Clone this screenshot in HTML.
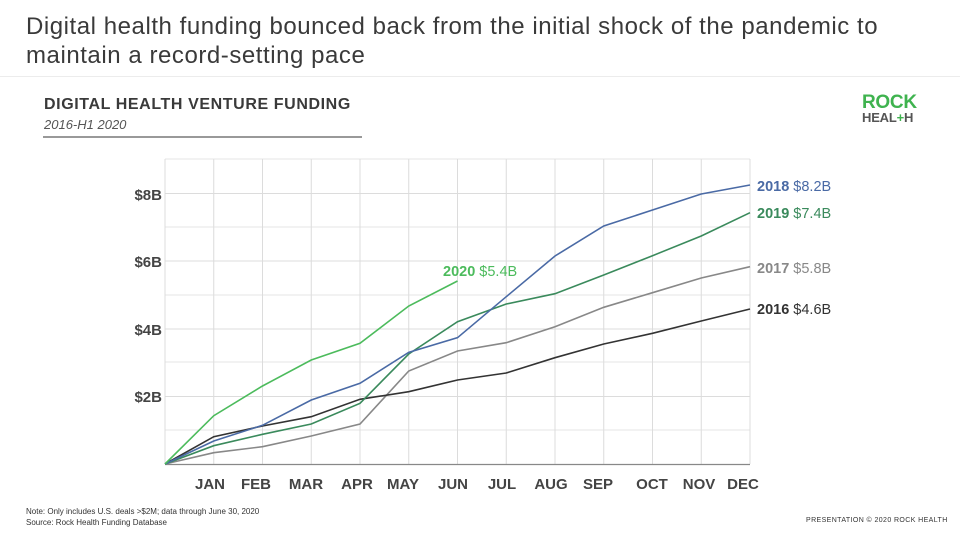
<!DOCTYPE html>
<html><head><meta charset="utf-8"><style>
body{margin:0;width:960px;height:540px;background:#fff;font-family:"Liberation Sans",sans-serif;position:relative;overflow:hidden}
.t{position:absolute;left:26px;top:12px;font-size:24px;letter-spacing:0.55px;line-height:29px;color:#3a3a3a}
.sep{position:absolute;left:0;top:76px;width:960px;height:1px;background:#ececec}
.st{position:absolute;left:44px;top:96px;font-size:16px;font-weight:bold;letter-spacing:0.6px;color:#3a3a3a}
.ss{position:absolute;left:44px;top:117px;font-size:13px;font-style:italic;color:#555}
.ul{position:absolute;left:43px;top:136px;width:319px;height:2px;background:#999}
.foot{position:absolute;left:26px;font-size:8px;color:#333}
</style></head><body>
<div class="t">Digital health funding bounced back from the initial shock of the pandemic to<br>maintain a record-setting pace</div>
<div class="sep"></div>
<div class="st">DIGITAL HEALTH VENTURE FUNDING</div>
<div class="ss">2016-H1 2020</div>
<div class="ul"></div>
<div style="position:absolute;left:862px;top:95px;font-weight:bold;font-size:19px;line-height:16px;color:#3fb34f;letter-spacing:-0.3px">ROCK</div>
<div style="position:absolute;left:862px;top:111px;font-weight:bold;font-size:13px;line-height:13px;color:#555;letter-spacing:-0.2px">HEAL<span style="color:#3fb34f">+</span>H</div>
<svg width="960" height="540" style="position:absolute;left:0;top:0">
<g stroke="#e6e6e6" stroke-width="1">
<line x1="165" y1="430" x2="750" y2="430"/><line x1="165" y1="362" x2="750" y2="362"/><line x1="165" y1="295" x2="750" y2="295"/><line x1="165" y1="227" x2="750" y2="227"/><line x1="165" y1="159" x2="750" y2="159"/>
</g>
<g stroke="#dcdcdc" stroke-width="1">
<line x1="165" y1="396.5" x2="750" y2="396.5"/><line x1="165" y1="329" x2="750" y2="329"/><line x1="165" y1="261" x2="750" y2="261"/><line x1="165" y1="193.5" x2="750" y2="193.5"/>
<line x1="165" y1="159" x2="165" y2="464"/><line x1="213.75" y1="159" x2="213.75" y2="464"/><line x1="262.5" y1="159" x2="262.5" y2="464"/><line x1="311.25" y1="159" x2="311.25" y2="464"/><line x1="360" y1="159" x2="360" y2="464"/><line x1="408.75" y1="159" x2="408.75" y2="464"/><line x1="457.5" y1="159" x2="457.5" y2="464"/><line x1="506.25" y1="159" x2="506.25" y2="464"/><line x1="555" y1="159" x2="555" y2="464"/><line x1="603.75" y1="159" x2="603.75" y2="464"/><line x1="652.5" y1="159" x2="652.5" y2="464"/><line x1="701.25" y1="159" x2="701.25" y2="464"/><line x1="750" y1="159" x2="750" y2="464"/>
</g>
<line x1="165" y1="464.5" x2="750" y2="464.5" stroke="#888" stroke-width="1.2"/>
<g fill="none" stroke-width="1.6">
<polyline stroke="#888" points="165,464 213.75,452.7 262.5,446.7 311.25,436 360,424 408.75,371 457.5,351 506.25,342.7 555,326.7 603.75,307.3 652.5,292.7 701.25,278 750,266.7"/>
<polyline stroke="#333" points="165,464 213.75,436.7 262.5,426 311.25,416.7 360,399.3 408.75,391.7 457.5,380 506.25,373 555,357.7 603.75,344 652.5,333.3 701.25,321 750,309"/>
<polyline stroke="#3a8a5c" points="165,464 213.75,445.7 262.5,434.3 311.25,424 360,403.3 408.75,354 457.5,321.7 506.25,304 555,293.7 603.75,275 652.5,255.7 701.25,236 750,212.7"/>
<polyline stroke="#4a6aa5" points="165,464 213.75,441 262.5,425.3 311.25,400 360,383.3 408.75,352.3 457.5,337.7 506.25,296.7 555,256 603.75,226 652.5,210 701.25,194 750,185"/>
<polyline stroke="#4cbb5c" points="165,464 213.75,415.7 262.5,386 311.25,360 360,343.3 408.75,306 457.5,281"/>
</g>
<g font-size="15" font-weight="bold" fill="#444" text-anchor="end">
<text x="162" y="200">$8B</text><text x="162" y="267">$6B</text><text x="162" y="335">$4B</text><text x="162" y="402">$2B</text>
</g>
<g font-size="15" font-weight="bold" fill="#444" text-anchor="middle">
<text x="210" y="489">JAN</text><text x="256" y="489">FEB</text><text x="306" y="489">MAR</text><text x="357" y="489">APR</text><text x="403" y="489">MAY</text><text x="453" y="489">JUN</text><text x="502" y="489">JUL</text><text x="551" y="489">AUG</text><text x="598" y="489">SEP</text><text x="652" y="489">OCT</text><text x="699" y="489">NOV</text><text x="743" y="489">DEC</text>
</g>
<g font-size="14.5">
<text x="757" y="191" fill="#4a6aa5"><tspan font-weight="bold">2018</tspan> $8.2B</text>
<text x="757" y="218" fill="#3a8a5c"><tspan font-weight="bold">2019</tspan> $7.4B</text>
<text x="757" y="273" fill="#888"><tspan font-weight="bold">2017</tspan> $5.8B</text>
<text x="757" y="314" fill="#333"><tspan font-weight="bold">2016</tspan> $4.6B</text>
<text x="443" y="276" fill="#4cbb5c"><tspan font-weight="bold">2020</tspan> $5.4B</text>
</g>
</svg>
<div class="foot" style="top:507px">Note: Only includes U.S. deals &gt;$2M; data through June 30, 2020</div>
<div class="foot" style="top:518px">Source: Rock Health Funding Database</div>
<div style="position:absolute;left:806px;top:517px;font-size:7px;letter-spacing:0.4px;color:#333">PRESENTATION © 2020 ROCK HEALTH</div>
</body></html>
